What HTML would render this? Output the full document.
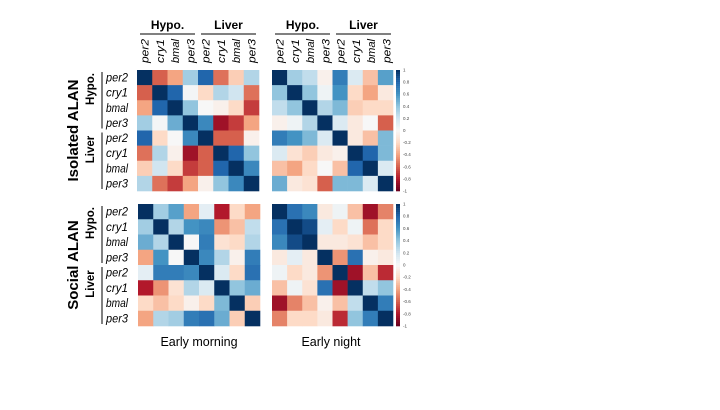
<!DOCTYPE html>
<html><head><meta charset="utf-8"><style>
body{margin:0;background:#fff}
svg text{font-family:"Liberation Sans",sans-serif}
</style></head><body>
<svg id="fig" width="720" height="405" viewBox="0 0 720 405" xmlns="http://www.w3.org/2000/svg">
<rect width="720" height="405" fill="#fff"/>
</svg>
<script>
const genes = ["per2","cry1","bmal","per3","per2","cry1","bmal","per3"];
const tissues = ["Hypo.","Liver"];
const cbTicks = ["1","0.8","0.6","0.4","0.2","0","-0.2","-0.4","-0.6","-0.8","-1"];
const isolatedMorning = [
[1,-0.6,-0.4,0.35,0.8,-0.55,-0.25,0.3],
[-0.6,1,0.8,0.02,-0.2,0.3,0.2,-0.55],
[-0.4,0.8,1,0.4,0.0,-0.05,-0.2,-0.7],
[0.35,0.02,0.5,1,0.65,-0.85,-0.7,-0.4],
[0.8,-0.2,0.0,0.65,1,-0.6,-0.6,-0.05],
[-0.55,0.3,-0.05,-0.85,-0.6,1,0.8,0.4],
[-0.25,0.2,-0.2,-0.7,-0.6,0.8,1,0.65],
[0.3,-0.55,-0.7,-0.4,-0.05,0.4,0.65,1]];
const isolatedNight = [
[1,0.35,0.25,-0.05,0.7,0.15,-0.3,0.55],
[0.4,1,0.4,0.05,0.6,-0.2,-0.4,-0.1],
[0.25,0.4,1,0.3,0.45,-0.25,-0.2,-0.2],
[-0.05,0.05,0.3,1,0.15,-0.1,0.0,-0.6],
[0.7,0.6,0.45,0.15,1,-0.1,-0.3,0.45],
[0.15,-0.15,-0.25,-0.1,-0.05,1,0.8,0.45],
[-0.3,-0.4,-0.2,0.0,-0.3,0.8,1,0.15],
[0.5,-0.1,-0.15,-0.6,0.45,0.45,0.15,1]];
const socialMorning = [
[1,0.35,0.55,-0.4,0.1,-0.8,-0.2,-0.4],
[0.35,1,0.3,0.6,0.65,-0.45,-0.3,0.25],
[0.5,0.3,1,0.0,0.7,-0.15,-0.2,0.3],
[-0.4,0.6,0.0,1,0.65,0.3,-0.05,0.7],
[0.1,0.7,0.7,0.65,1,0.15,-0.2,0.75],
[-0.8,-0.45,-0.15,0.3,0.15,1,0.4,0.5],
[-0.2,-0.3,-0.2,-0.05,-0.2,0.45,1,-0.25],
[-0.4,0.3,0.35,0.7,0.75,0.5,-0.25,1]];
const socialNight = [
[1,0.75,0.65,-0.1,0.05,-0.3,-0.85,-0.5],
[0.75,1,0.9,0.1,-0.2,0.05,-0.55,-0.2],
[0.65,0.9,1,-0.1,-0.1,-0.15,-0.3,-0.2],
[-0.1,0.1,-0.1,1,-0.45,0.75,-0.05,-0.1],
[0.05,-0.2,-0.1,-0.45,1,-0.85,-0.3,-0.75],
[-0.3,0.05,-0.15,0.75,-0.85,1,0.25,0.4],
[-0.85,-0.5,-0.3,-0.05,-0.3,0.25,1,0.7],
[-0.5,-0.2,-0.2,-0.1,-0.75,0.4,0.7,1]];

const NS="http://www.w3.org/2000/svg";
const svg=document.getElementById("fig");
function mk(tag,attrs,parent){const e=document.createElementNS(NS,tag);for(const k in attrs)e.setAttribute(k,attrs[k]);(parent||svg).appendChild(e);return e;}
const stops=[[103,0,31],[178,24,43],[214,96,77],[244,165,130],[253,219,199],[247,247,247],[209,229,240],[146,197,222],[67,147,195],[33,102,172],[5,48,97]];
function color(v){v=Math.max(-1,Math.min(1,v));const t=(v+1)/2*10;const i=Math.min(9,Math.floor(t));const f=t-i;const a=stops[i],b=stops[i+1];return "rgb("+[0,1,2].map(k=>Math.round(a[k]+(b[k]-a[k])*f)).join(",")+")";}

function heat(data,x0,y0,w,h,name){
  const g=mk("g",{});
  
  
  const n=data.length,cw=w/n,ch=h/n;
  data.forEach((row,r)=>row.forEach((v,c)=>{
    const rc=mk("rect",{x:x0+c*cw,y:y0+r*ch,width:cw+0.3,height:ch+0.3,fill:color(v)},g);
    
    
  }));
}
function colorbar(x,y0,h,name){
  const g=mk("g",{});
  
  
  const steps=60;
  for(let i=0;i<steps;i++){
    const v=1-2*(i+0.5)/steps;
    mk("rect",{x:x,y:y0+i*h/steps,width:4,height:h/steps+0.3,fill:color(v)},g);
  }
  cbTicks.forEach((t,i)=>{
    const tx=mk("text",{x:x+7,y:y0+i*h/(cbTicks.length-1)+1.5,"font-size":4.5,fill:"#444"},g);
    tx.textContent=t;
    
    
  });
}
function colHeaders(x0,w,name){
  const g=mk("g",{});
  
  
  const cw=w/8;
  genes.forEach((s,i)=>{
    const cx=x0+(i+0.5)*cw+4;
    const t=mk("text",{x:cx,y:63,transform:"rotate(-90 "+cx+" 63)","font-size":11,"font-style":"italic",fill:"#000",textLength:24,lengthAdjust:"spacingAndGlyphs"},g);
    t.textContent=s;
    
    
  });
  tissues.forEach((s,i)=>{
    const lx=x0+3+i*w/2;
    mk("line",{x1:lx,y1:34,x2:lx+w/2-6,y2:34,stroke:"#000","stroke-width":1},g);
    const t=mk("text",{x:lx+(w/2-6)/2,y:29,"font-size":12,"font-weight":"bold","text-anchor":"middle"},g);
    t.textContent=s;
    
    
  });
}
function rowLabels(y0,h,title,name){
  const g=mk("g",{});
  
  
  const ch=h/8;
  genes.forEach((s,i)=>{
    const t=mk("text",{x:128,y:y0+(i+0.5)*ch+4,"font-size":11.5,"font-style":"italic","text-anchor":"end",textLength:22,lengthAdjust:"spacingAndGlyphs"},g);
    t.textContent=s;
    
    
  });
  tissues.forEach((s,i)=>{
    const ys=y0+i*h/2+2, ye=y0+(i+1)*h/2-2;
    mk("line",{x1:102,y1:ys,x2:102,y2:ye,stroke:"#000","stroke-width":1},g);
    const cy=y0+i*h/2+19;
    const t=mk("text",{x:94,y:cy,transform:"rotate(-90 94 "+cy+")","font-size":11.5,"font-weight":"bold","text-anchor":"middle"},g);
    t.textContent=s;
    
    
  });
  const cy=y0+h/2;
  const t=mk("text",{x:78,y:cy,transform:"rotate(-90 78 "+cy+")","font-size":15,"font-weight":"bold","text-anchor":"middle"},g);
  t.textContent=title;
  
  
}
colHeaders(137,122,"morning-column-headers");
colHeaders(272,122,"night-column-headers");
heat(isolatedMorning,137,70,122,121,"isolated-morning-heatmap");
heat(isolatedNight,272,70,121,121,"isolated-night-heatmap");
heat(socialMorning,138,204,122,122,"social-morning-heatmap");
heat(socialNight,272,204,121,122,"social-night-heatmap");
colorbar(396,70,121,"isolated-colorbar");
colorbar(396,204,122,"social-colorbar");
rowLabels(70,121,"Isolated ALAN","isolated-row-labels");
rowLabels(204,122,"Social ALAN","social-row-labels");
[["Early morning",199,"early-morning-label"],["Early night",331,"early-night-label"]].forEach(a=>{
  const t=mk("text",{x:a[1],y:346,"font-size":12.5,"text-anchor":"middle"});
  t.textContent=a[0];
  
  
});
</script>
</body></html>
